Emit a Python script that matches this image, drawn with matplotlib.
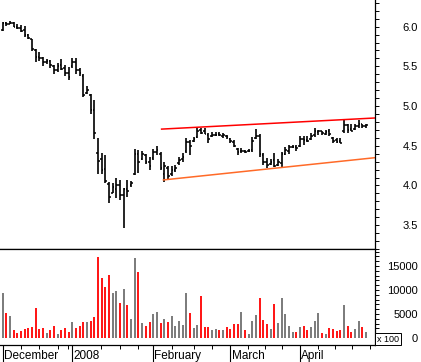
import numpy as np
import matplotlib.pyplot as plt
from matplotlib.ticker import MultipleLocator, FixedLocator

plt.rcParams['font.family'] = ['Liberation Sans', 'DejaVu Sans']

# daily OHLC, Dec 2007 - Apr 2008
high = [6.06, 6.06, 6.07, 6.06, 6.03, 6.02, 6.01, 5.91, 5.84, 5.72,
        5.68, 5.62, 5.59, 5.58, 5.52, 5.54, 5.59, 5.52, 5.49, 5.60,
        5.60, 5.48, 5.40, 5.25, 5.15, 5.08, 4.60, 4.41, 4.38, 4.04,
        4.03, 4.09, 4.07, 3.97, 4.07, 4.06, 4.46, 4.45, 4.44, 4.40,
        4.36, 4.46, 4.50, 4.42, 4.29, 4.24, 4.24, 4.26, 4.36, 4.41,
        4.60, 4.57, 4.61, 4.72, 4.72, 4.72, 4.66, 4.67, 4.67, 4.67,
        4.66, 4.63, 4.60, 4.57, 4.47, 4.47, 4.45, 4.46, 4.61, 4.71,
        4.65, 4.41, 4.34, 4.33, 4.41, 4.33, 4.42, 4.48, 4.51, 4.51,
        4.51, 4.62, 4.62, 4.62, 4.66, 4.72, 4.70, 4.69, 4.70, 4.71,
        4.61, 4.60, 4.60, 4.82, 4.78, 4.78, 4.78, 4.82, 4.78, 4.77]
low = [5.95, 6.01, 6.03, 5.99, 5.97, 5.93, 5.87, 5.84, 5.69, 5.56,
       5.57, 5.50, 5.53, 5.48, 5.40, 5.43, 5.45, 5.38, 5.33, 5.48,
       5.40, 5.38, 5.11, 5.15, 4.90, 4.58, 4.14, 4.15, 4.03, 3.78,
       3.90, 3.84, 3.82, 3.46, 3.85, 3.98, 4.13, 4.16, 4.32, 4.27,
       4.19, 4.32, 4.38, 4.19, 4.05, 4.07, 4.12, 4.17, 4.26, 4.30,
       4.41, 4.38, 4.55, 4.60, 4.65, 4.65, 4.53, 4.61, 4.62, 4.62,
       4.60, 4.59, 4.53, 4.48, 4.38, 4.41, 4.41, 4.42, 4.42, 4.58,
       4.36, 4.26, 4.22, 4.26, 4.23, 4.24, 4.23, 4.38, 4.40, 4.47,
       4.43, 4.48, 4.51, 4.55, 4.57, 4.61, 4.64, 4.63, 4.63, 4.62,
       4.53, 4.54, 4.53, 4.66, 4.66, 4.69, 4.70, 4.72, 4.73, 4.73]
opn = [5.96, 6.05, 6.04, 6.05, 6.00, 5.98, 5.96, 5.90, 5.84, 5.70,
       5.62, 5.60, 5.55, 5.57, 5.50, 5.45, 5.52, 5.48, 5.42, 5.50,
       5.56, 5.45, 5.38, 5.16, 5.14, 4.95, 4.41, 4.33, 4.21, 4.02,
       3.91, 3.96, 4.00, 3.88, 3.95, 4.00, 4.15, 4.40, 4.33, 4.38,
       4.30, 4.34, 4.42, 4.40, 4.15, 4.22, 4.14, 4.19, 4.28, 4.33,
       4.43, 4.55, 4.56, 4.61, 4.70, 4.68, 4.64, 4.62, 4.63, 4.65,
       4.62, 4.62, 4.59, 4.55, 4.46, 4.43, 4.43, 4.43, 4.45, 4.60,
       4.62, 4.38, 4.30, 4.27, 4.32, 4.26, 4.28, 4.40, 4.44, 4.48,
       4.49, 4.50, 4.59, 4.57, 4.58, 4.63, 4.67, 4.68, 4.65, 4.68,
       4.60, 4.57, 4.56, 4.68, 4.76, 4.71, 4.71, 4.75, 4.77, 4.75]
close = [6.05, 6.03, 6.05, 6.00, 5.98, 5.95, 5.90, 5.86, 5.72, 5.62,
         5.60, 5.55, 5.57, 5.52, 5.45, 5.50, 5.47, 5.42, 5.36, 5.55,
         5.45, 5.42, 5.14, 5.20, 4.95, 4.66, 4.31, 4.20, 4.06, 3.85,
         3.98, 4.00, 3.88, 3.95, 3.93, 4.03, 4.40, 4.30, 4.40, 4.30,
         4.25, 4.42, 4.45, 4.22, 4.25, 4.12, 4.20, 4.22, 4.32, 4.36,
         4.55, 4.50, 4.58, 4.68, 4.66, 4.65, 4.58, 4.63, 4.64, 4.63,
         4.64, 4.61, 4.56, 4.50, 4.42, 4.44, 4.42, 4.44, 4.56, 4.62,
         4.40, 4.30, 4.26, 4.30, 4.25, 4.30, 4.40, 4.45, 4.48, 4.49,
         4.47, 4.58, 4.57, 4.56, 4.62, 4.68, 4.69, 4.66, 4.67, 4.65,
         4.56, 4.55, 4.54, 4.76, 4.70, 4.69, 4.75, 4.78, 4.75, 4.76]
# volume (x 100)
volume = [9370, 5200, 4510, 1600, 1040, 1460, 1800, 2010, 2220, 6170,
          1800, 2010, 1040, 1600, 2430, 760, 1600, 2010, 1250, 3260,
          2010, 2430, 3260, 3260, 3470, 4300, 16800, 12420, 10620, 13050,
          9300, 9710, 7290, 10130, 6800, 3880, 16590, 13670, 3050, 2430,
          3260, 4930, 5340, 3050, 3880, 3260, 4510, 2430, 3470, 2640,
          9300, 5200, 2010, 2640, 8740, 2220, 2220, 1600, 1800, 1600,
          1600, 2220, 1800, 2850, 2850, 5340, 1600, 760, 3470, 4720,
          8260, 3680, 2850, 1800, 7010, 3050, 8260, 4930, 2430, 1180,
          1180, 2220, 2430, 1600, 2220, 3470, 5140, 970, 760, 2010,
          1800, 1390, 1600, 6800, 2430, 1180, 1800, 3470, 2220, 1180]

month_pos = [0, 19, 41, 62, 81]
month_names = ['December', '2008', 'February', 'March', 'April']
week_pos = [4.9, 10, 15.2, 17.9, 26.9, 32, 37, 46, 52.2, 57.1,
            66.8, 71.5, 76.2, 85.8, 90.5, 95.3, 100.1]

# channel lines
res_x = [43.3, 101.45]
resist = [4.71, 4.85]
sup_x = [43.8, 101.45]
support = [4.07, 4.35]

W, H = 421, 362
fig = plt.figure(figsize=(W/100, H/100), dpi=100)
ax = fig.add_axes([0, 1-249/H, 375/W, 249/H])
axv = fig.add_axes([0, 17/H, 375/W, 96/H])

x = np.arange(len(close))
close = np.array(close)

# price bars
ax.vlines(x, low, high, color='black', lw=1.2)
ax.hlines(opn, x-0.45, x, color='black', lw=1.1)
ax.hlines(close, x, x+0.45, color='black', lw=1.1)
ax.plot(res_x, resist, color='#ff0000', lw=1.1)
ax.plot(sup_x, support, color='#ff6a28', lw=1.1)

ax.set_xlim(-0.74, 101.45)
ax.set_ylim(3.20, 6.336)
for s in ['top', 'left']:
    ax.spines[s].set_visible(False)
ax.spines['right'].set_linewidth(0.9)
ax.spines['bottom'].set_linewidth(0.9)
ax.yaxis.tick_right()
ax.yaxis.set_major_locator(MultipleLocator(0.5))
ax.yaxis.set_minor_locator(MultipleLocator(0.1))
ax.yaxis.set_major_formatter(lambda v, p: '%.1f' % v)
ax.tick_params(axis='x', bottom=False, labelbottom=False)
ax.tick_params(axis='y', which='both', direction='out', length=3, width=0.7,
               labelsize=8, pad=28)
for lab in ax.get_yticklabels():
    lab.set_horizontalalignment('right')

# volume
down = np.r_[False, close[1:] < close[:-1]]
vcol = np.where(down, '#ff0000', '#707070')
axv.vlines(x, 0, volume, colors=vcol, lw=1.3)
axv.set_xlim(-0.74, 101.45)
axv.set_ylim(-1460, 18540)
axv.spines['left'].set_visible(False)
for s in ['right', 'bottom', 'top']:
    axv.spines[s].set_linewidth(0.9)
axv.yaxis.tick_right()
axv.yaxis.set_major_locator(MultipleLocator(5000))
axv.yaxis.set_minor_locator(FixedLocator(np.arange(0, 19000, 1000)))
axv.tick_params(axis='y', which='both', direction='out', length=3, width=0.7,
                labelsize=8, pad=28)
for lab in axv.get_yticklabels():
    lab.set_horizontalalignment('right')

axv.set_xticks(month_pos)
axv.set_xticklabels([])
axv.set_xticks(week_pos, minor=True)
axv.tick_params(axis='x', which='major', direction='out', length=12.5, width=0.8)
axv.tick_params(axis='x', which='minor', direction='out', length=3, width=0.7)
for p, name in zip(month_pos, month_names):
    axv.text(p + 0.35, -0.15, name, transform=axv.get_xaxis_transform(),
             ha='left', va='baseline', fontsize=8.5)

fig.text(377/W, 1-343.5/H, 'x 100', ha='left', va='bottom', fontsize=6.5,
         bbox=dict(boxstyle='square,pad=0.2', fc='white', ec='black', lw=0.7))

fig.savefig('out.png', dpi=100)
